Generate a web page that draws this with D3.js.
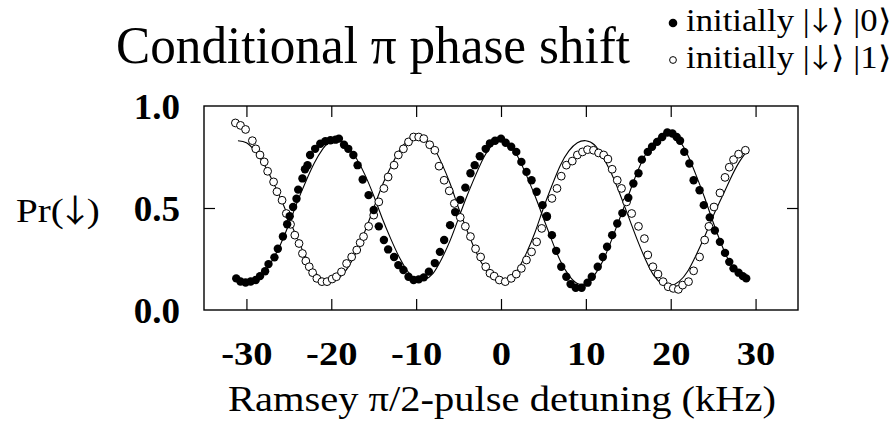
<!DOCTYPE html>
<html>
<head>
<meta charset="utf-8">
<script src="https://cdn.jsdelivr.net/npm/d3@7"></script>
<style>
  body { margin: 0; background: #fff; }
  text { font-family: "Liberation Serif", "Times New Roman", serif; fill: #000; }
  .arrow { font-family: "Noto Sans CJK JP", "DejaVu Sans", sans-serif; }
</style>
</head>
<body>
<div id="chart"></div>
<script>
// filled circles: initially |down>|0>
var filledX = [-31.2,-30.7,-30.1,-29.5,-28.9,-28.4,-27.8,-27.4,-26.7,-26.3,-25.7,-25.2,-24.9,-24.5,-24.1,-23.9,-23.4,-23.1,-22.8,-22.5,-21.9,-21.3,-20.7,-20.1,-19.5,-19.1,-18.5,-18.0,-17.4,-16.9,-16.3,-15.6,-15.0,-14.4,-13.8,-13.3,-12.6,-12.1,-11.5,-10.9,-10.3,-9.7,-9.1,-8.5,-7.8,-7.2,-6.7,-6.0,-5.4,-4.8,-4.2,-3.6,-3.1,-2.5,-1.8,-1.3,-0.7,0.0,0.55,1.2,1.8,2.4,3.0,3.6,4.2,4.9,5.4,6.0,6.5,7.1,7.7,8.2,8.8,9.5,10.2,10.7,11.4,12.0,12.5,13.1,13.7,14.3,15.0,15.6,16.2,16.6,17.3,17.8,18.4,19.0,19.6,20.2,20.7,21.1,21.6,22.2,22.7,23.4,23.9,24.6,25.2,25.8,26.4,26.9,27.4,28.0,28.5,28.9];
var filledY = [0.155,0.14,0.135,0.14,0.147,0.166,0.19,0.225,0.258,0.30,0.36,0.42,0.46,0.505,0.545,0.59,0.645,0.69,0.71,0.76,0.79,0.815,0.827,0.832,0.835,0.84,0.81,0.79,0.76,0.71,0.64,0.563,0.49,0.41,0.343,0.297,0.26,0.22,0.196,0.163,0.147,0.15,0.16,0.188,0.23,0.285,0.343,0.416,0.48,0.54,0.60,0.67,0.71,0.754,0.79,0.817,0.83,0.84,0.82,0.80,0.775,0.726,0.677,0.636,0.58,0.514,0.457,0.367,0.29,0.212,0.163,0.127,0.109,0.109,0.134,0.163,0.212,0.26,0.31,0.367,0.424,0.475,0.55,0.62,0.67,0.737,0.775,0.80,0.824,0.848,0.87,0.865,0.848,0.83,0.775,0.718,0.636,0.587,0.514,0.454,0.39,0.334,0.28,0.236,0.204,0.183,0.166,0.155];

// open circles: initially |down>|1>
var openX = [-31.3,-30.7,-30.1,-29.3,-28.9,-28.4,-27.9,-27.5,-26.8,-26.4,-25.8,-25.3,-24.8,-24.3,-23.8,-23.4,-23.0,-22.6,-22.2,-21.7,-21.1,-20.5,-19.9,-19.4,-18.8,-18.2,-17.6,-17.0,-16.6,-16.2,-15.6,-15.0,-14.4,-13.8,-13.3,-12.6,-12.1,-11.5,-10.9,-10.3,-9.7,-9.1,-8.4,-7.8,-7.3,-6.7,-6.1,-5.5,-4.8,-4.2,-3.6,-3.0,-2.4,-1.8,-1.3,-0.8,-0.2,0.5,1.2,1.8,2.4,3.0,3.6,4.2,4.8,5.4,6.0,6.6,7.1,7.7,8.4,9.0,9.6,10.2,10.9,11.5,12.1,12.6,13.1,13.7,14.2,14.8,15.4,16.2,16.9,17.3,17.9,18.5,19.1,19.7,20.3,20.9,21.4,22.1,22.7,23.4,24.0,24.5,25.1,25.8,26.4,26.9,27.4,28.0,28.8];
var openY = [0.917,0.905,0.885,0.83,0.79,0.76,0.726,0.68,0.628,0.58,0.538,0.473,0.42,0.367,0.326,0.277,0.24,0.212,0.183,0.155,0.139,0.139,0.152,0.163,0.187,0.228,0.26,0.294,0.33,0.36,0.41,0.465,0.53,0.596,0.652,0.71,0.76,0.79,0.824,0.848,0.848,0.84,0.81,0.783,0.705,0.636,0.584,0.522,0.454,0.41,0.36,0.30,0.26,0.212,0.18,0.166,0.147,0.139,0.155,0.176,0.204,0.245,0.285,0.334,0.40,0.46,0.547,0.596,0.656,0.71,0.73,0.76,0.775,0.786,0.783,0.77,0.76,0.74,0.69,0.636,0.596,0.53,0.473,0.41,0.35,0.27,0.212,0.176,0.139,0.114,0.106,0.101,0.122,0.139,0.192,0.26,0.343,0.41,0.505,0.574,0.65,0.70,0.737,0.764,0.783];

// fitted curves, read at 1 kHz steps
var fitX = [-31,-30,-29,-28,-27,-26,-25,-24,-23,-22,-21,-20,-19,-18,-17,-16,-15,-14,-13,-12,-11,-10,-9,-8,-7,-6,-5,-4,-3,-2,-1,0,1,2,3,4,5,6,7,8,9,10,11,12,13,14,15,16,17,18,19,20,21,22,23,24,25,26,27,28,29];
var fitFilled = [0.15,0.14,0.15,0.18,0.24,0.32,0.42,0.53,0.63,0.72,0.79,0.83,0.83,0.80,0.74,0.66,0.56,0.45,0.35,0.26,0.19,0.15,0.15,0.18,0.25,0.34,0.45,0.56,0.66,0.75,0.81,0.83,0.81,0.75,0.66,0.56,0.45,0.34,0.24,0.17,0.13,0.13,0.17,0.24,0.34,0.45,0.56,0.67,0.76,0.82,0.86,0.86,0.83,0.76,0.66,0.55,0.43,0.32,0.23,0.18,0.15];
var fitOpen = [0.83,0.82,0.78,0.72,0.64,0.55,0.45,0.35,0.26,0.19,0.15,0.14,0.16,0.21,0.29,0.39,0.50,0.61,0.70,0.78,0.83,0.85,0.84,0.80,0.72,0.62,0.50,0.39,0.29,0.21,0.16,0.14,0.15,0.20,0.28,0.38,0.50,0.61,0.71,0.78,0.82,0.83,0.81,0.75,0.67,0.57,0.46,0.35,0.25,0.17,0.13,0.12,0.14,0.19,0.27,0.36,0.46,0.55,0.64,0.72,0.78];

var xTicks = [-30,-20,-10,0,10,20,30];
var yTicks = [0, 0.5, 1];
var yTickLabels = ["0.0", "0.5", "1.0"];

var w = 893, h = 439;
var svg = d3.select("#chart").append("svg").attr("width", w).attr("height", h);

// plot frame ("top" is taken by window.top, so p* names)
var pLeft = 204, pRight = 798, pTop = 106, pBottom = 310;

var x = d3.scaleLinear().domain([-35, 35]).range([pLeft, pRight]);
var y = d3.scaleLinear().domain([0, 1]).range([pBottom, pTop]);

svg.append("rect")
  .attr("x", pLeft).attr("y", pTop)
  .attr("width", pRight - pLeft).attr("height", pBottom - pTop)
  .attr("fill", "none").attr("stroke", "#000").attr("stroke-width", 1.4);

// ticks point inward on all four sides
var xb = svg.append("g").attr("transform", "translate(0," + pBottom + ")")
  .call(d3.axisBottom(x).tickValues(xTicks).tickSize(-11).tickFormat(function(d) { return String(d); }));
xb.select(".domain").remove();
xb.selectAll("text")
  .attr("y", 0).attr("dy", null)
  .attr("transform", "translate(0,55) scale(1.17,1)")
  .style("font-size", "33px").style("font-weight", "bold")
  .style("font-family", "'Liberation Serif', 'Times New Roman', serif");

var xt = svg.append("g").attr("transform", "translate(0," + pTop + ")")
  .call(d3.axisTop(x).tickValues(xTicks).tickSize(-11).tickFormat(""));
xt.select(".domain").remove();

var yl = svg.append("g").attr("transform", "translate(" + pLeft + ",0)")
  .call(d3.axisLeft(y).tickValues([0.5]).tickSize(-11).tickFormat(""));
yl.select(".domain").remove();
var yr = svg.append("g").attr("transform", "translate(" + pRight + ",0)")
  .call(d3.axisRight(y).tickValues([0.5]).tickSize(-11).tickFormat(""));
yr.select(".domain").remove();
svg.selectAll(".tick line").attr("stroke", "#000").attr("stroke-width", 1.2);

svg.selectAll(".ylab")
  .data(yTicks)
  .enter().append("text")
  .attr("class", "ylab")
  .attr("text-anchor", "end")
  .attr("transform", function(d) { return "translate(180," + (y(d) + 13) + ") scale(1.06,1)"; })
  .style("font-size", "35px").style("font-weight", "bold")
  .text(function(d, i) { return yTickLabels[i]; });

// fit lines
var line = d3.line()
  .x(function(d) { return x(d[0]); })
  .y(function(d) { return y(d[1]); })
  .curve(d3.curveNatural);

svg.append("path")
  .datum(fitX.map(function(v, i) { return [v, fitFilled[i]]; }))
  .attr("d", line).attr("fill", "none").attr("stroke", "#000").attr("stroke-width", 1.1);
svg.append("path")
  .datum(fitX.map(function(v, i) { return [v, fitOpen[i]]; }))
  .attr("d", line).attr("fill", "none").attr("stroke", "#000").attr("stroke-width", 1.1);

// data points
svg.append("g").selectAll("circle")
  .data(openX.map(function(v, i) { return [v, openY[i]]; }))
  .enter().append("circle")
  .attr("cx", function(d) { return x(d[0]); })
  .attr("cy", function(d) { return y(d[1]); })
  .attr("r", 3.9)
  .attr("fill", "#fff").attr("stroke", "#000").attr("stroke-width", 1);

svg.append("g").selectAll("circle")
  .data(filledX.map(function(v, i) { return [v, filledY[i]]; }))
  .enter().append("circle")
  .attr("cx", function(d) { return x(d[0]); })
  .attr("cy", function(d) { return y(d[1]); })
  .attr("r", 4.2)
  .attr("fill", "#000");

// titles
svg.append("text")
  .attr("x", 116).attr("y", 63)
  .attr("textLength", 514).attr("lengthAdjust", "spacingAndGlyphs")
  .style("font-size", "53px")
  .text("Conditional \u03c0 phase shift");

// y label: the full-width arrow has wide side bearings, pull it in with dx
var pr = svg.append("text")
  .attr("transform", "translate(16,222) scale(1.15,1)")
  .style("font-size", "34px");
pr.append("tspan").text("Pr(");
pr.append("tspan").attr("class", "arrow").attr("dx", -6).style("font-size", "32px").text("\u2193");
pr.append("tspan").attr("dx", -6).text(")");

svg.append("text")
  .attr("x", 228).attr("y", 411)
  .attr("textLength", 548).attr("lengthAdjust", "spacingAndGlyphs")
  .style("font-size", "36px")
  .text("Ramsey \u03c0/2-pulse detuning (kHz)");

// legend
var legendRows = [
  { y: 31, filled: true, ket: "0" },
  { y: 68, filled: false, ket: "1" }
];
legendRows.forEach(function(r) {
  svg.append("circle").attr("cx", 673).attr("cy", r.y - 8)
    .attr("r", r.filled ? 4.3 : 3.4)
    .attr("fill", r.filled ? "#000" : "#fff")
    .attr("stroke", r.filled ? "none" : "#000").attr("stroke-width", 1);
  var t = svg.append("text")
    .attr("transform", "translate(686," + r.y + ") scale(1.12,1)")
    .style("font-size", "31px");
  t.append("tspan").text("initially |");
  t.append("tspan").attr("class", "arrow").attr("dx", -4).style("font-size", "27px").text("\u2193");
  t.append("tspan").attr("dx", -4).text("\u27e9 |" + r.ket + "\u27e9");
});
</script>
</body>
</html>
